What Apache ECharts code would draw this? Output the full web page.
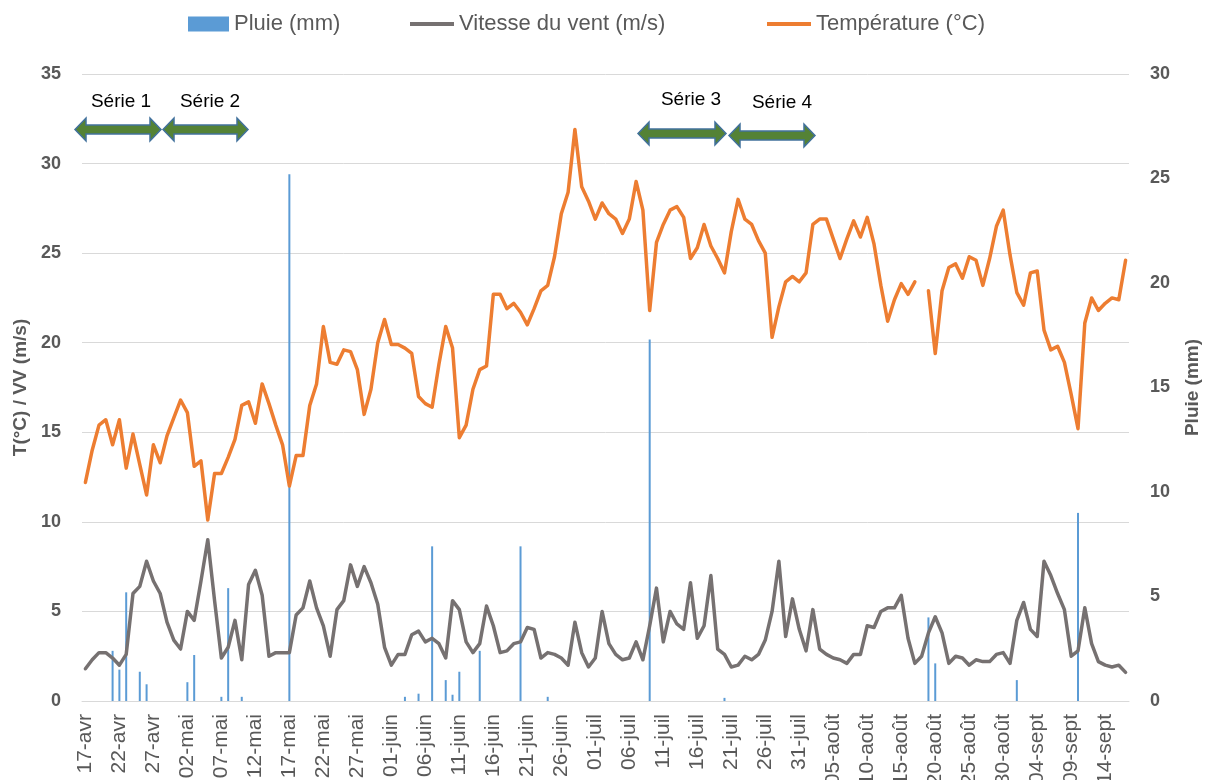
<!DOCTYPE html>
<html>
<head>
<meta charset="utf-8">
<title>Pluie, vent et température</title>
<script src="https://cdn.jsdelivr.net/npm/echarts@6/dist/echarts.min.js"></script>
<style>
  html, body { margin: 0; padding: 0; background: #ffffff; }
  #chart { width: 1206px; height: 780px; }
</style>
</head>
<body>
<div id="chart"></div>
<script>
// dates : du 17 avril au 17 septembre (un point par jour)
const monthNames = ['avr', 'mai', 'juin', 'juil', 'août', 'sept'];
const monthDays = [30, 31, 30, 31, 31, 30];
const startDay = 17;
const dayCount = 154;

// Température (°C)
const temperature = [
  12.2, 14.0, 15.4, 15.7, 14.3, 15.7, 13.0, 14.9, 13.2, 11.5,
  14.3, 13.3, 14.8, 15.8, 16.8, 16.1, 13.1, 13.4, 10.1, 12.7,
  12.7, 13.6, 14.6, 16.5, 16.7, 15.5, 17.7, 16.6, 15.4, 14.3,
  12.0, 13.7, 13.7, 16.5, 17.7, 20.9, 18.9, 18.8, 19.6, 19.5,
  18.5, 16.0, 17.4, 20.0, 21.3, 19.9, 19.9, 19.7, 19.4, 17.0,
  16.6, 16.4, 18.8, 20.9, 19.7, 14.7, 15.4, 17.4, 18.5, 18.7,
  22.7, 22.7, 21.9, 22.2, 21.7, 21.0, 21.9, 22.9, 23.2, 24.8,
  27.2, 28.4, 31.9, 28.7, 27.9, 26.9, 27.8, 27.2, 26.9, 26.1,
  26.9, 29.0, 27.4, 21.8, 25.6, 26.6, 27.4, 27.6, 27.0, 24.7,
  25.3, 26.6, 25.4, 24.7, 23.9, 26.2, 28.0, 26.9, 26.6, 25.7,
  25.0, 20.3, 22.0, 23.4, 23.7, 23.4, 23.9, 26.6, 26.9, 26.9,
  25.8, 24.7, 25.8, 26.8, 25.9, 27.0, 25.5, 23.2, 21.2, 22.4,
  23.3, 22.7, 23.4, null, 22.9, 19.4, 22.9, 24.2, 24.4, 23.6,
  24.8, 24.6, 23.2, 24.7, 26.5, 27.4, 24.9, 22.8, 22.1, 23.9,
  24.0, 20.7, 19.6, 19.8, 18.9, 17.1, 15.2, 21.1, 22.5, 21.8,
  22.2, 22.5, 22.4, 24.6
];

// Vitesse du vent (m/s)
const windSpeed = [
  1.8, 2.3, 2.7, 2.7, 2.4, 2.0, 2.6, 6.0, 6.4, 7.8,
  6.7, 6.0, 4.4, 3.4, 2.9, 5.0, 4.5, 6.7, 9.0, 5.6,
  2.4, 3.0, 4.5, 2.3, 6.5, 7.3, 5.9, 2.5, 2.7, 2.7,
  2.7, 4.8, 5.2, 6.7, 5.2, 4.2, 2.5, 5.1, 5.6, 7.6,
  6.4, 7.5, 6.6, 5.4, 3.0, 2.0, 2.6, 2.6, 3.7, 3.9,
  3.3, 3.5, 3.2, 2.4, 5.6, 5.1, 3.3, 2.7, 3.2, 5.3,
  4.2, 2.7, 2.8, 3.2, 3.3, 4.1, 4.0, 2.4, 2.7, 2.6,
  2.4, 2.0, 4.4, 2.7, 1.9, 2.4, 5.0, 3.2, 2.6, 2.3,
  2.4, 3.3, 2.3, 4.2, 6.3, 3.3, 5.0, 4.3, 4.0, 6.6,
  3.5, 4.2, 7.0, 2.9, 2.6, 1.9, 2.0, 2.5, 2.3, 2.6,
  3.4, 5.0, 7.8, 3.6, 5.7, 4.0, 2.8, 5.1, 2.9, 2.6,
  2.4, 2.3, 2.1, 2.6, 2.6, 4.2, 4.1, 5.0, 5.2, 5.2,
  5.9, 3.5, 2.1, 2.5, 3.8, 4.7, 3.8, 2.1, 2.5, 2.4,
  2.0, 2.3, 2.2, 2.2, 2.6, 2.7, 2.1, 4.5, 5.5, 4.0,
  3.6, 7.8, 7.0, 6.0, 5.1, 2.5, 2.8, 5.2, 3.2, 2.2,
  2.0, 1.9, 2.0, 1.6
];

// Pluie (mm)
const rain = [
  0, 0, 0, 0, 2.4, 1.5, 5.2, 0, 1.4, 0.8,
  0, 0, 0, 0, 0, 0.9, 2.2, 0, 0, 0,
  0.2, 5.4, 0, 0.2, 0, 0, 0, 0, 0, 0,
  25.2, 0, 0, 0, 0, 0, 0, 0, 0, 0,
  0, 0, 0, 0, 0, 0, 0, 0.2, 0, 0.35,
  0, 7.4, 0, 1.0, 0.3, 1.4, 0, 0, 2.4, 0,
  0, 0, 0, 0, 7.4, 0, 0, 0, 0.2, 0,
  0, 0, 0, 0, 0, 0, 0, 0, 0, 0,
  0, 0, 0, 17.3, 0, 0, 0, 0, 0, 0,
  0, 0, 0, 0, 0.15, 0, 0, 0, 0, 0,
  0, 0, 0, 0, 0, 0, 0, 0, 0, 0,
  0, 0, 0, 0, 0, 0, 0, 0, 0, 0,
  0, 0, 0, 0, 4.0, 1.8, 0, 0, 0, 0,
  0, 0, 0, 0, 0, 0, 0, 1.0, 0, 0,
  0, 0, 0, 0, 0, 0, 9.0, 0, 0, 0,
  0, 0, 0, 0
];

// périodes de mesure (flèches)
const seriesLabels = ['Série 1', 'Série 2', 'Série 3', 'Série 4'];

// construction des libellés de dates
const dates = [];
let m = 0, d = startDay;
for (let i = 0; i < dayCount; i++) {
  dates.push((d < 10 ? '0' + d : '' + d) + '-' + monthNames[m]);
  d++;
  if (d > monthDays[m]) { d = 1; m++; }
}

const FONT = '"Liberation Sans", Arial, sans-serif';
const GREY_TXT = '#595959';
const LINE_ICON = 'path://M0,0H44V4H0Z';

// flèche double (annotation)
const makeArrow = (x0, x1, yc) => {
  const h = 11, H = 11.5, s = 4.5;
  return {
    type: 'polygon',
    shape: {
      points: [
        [x0, yc], [x0 + h, yc - H], [x0 + h, yc - s], [x1 - h, yc - s],
        [x1 - h, yc - H], [x1, yc], [x1 - h, yc + H], [x1 - h, yc + s],
        [x0 + h, yc + s], [x0 + h, yc + H]
      ]
    },
    style: { fill: '#548235', stroke: '#41719C', lineWidth: 1.5 },
    z: 100
  };
};

const seriesText = (text, x, y) => ({
  type: 'text',
  x: x, y: y,
  style: {
    text: text, fill: '#000000', font: '19px ' + FONT,
    textAlign: 'center', textVerticalAlign: 'middle'
  },
  z: 100
});

const legendText = { fontSize: 22, color: GREY_TXT, fontFamily: FONT };

const chart = echarts.init(document.getElementById('chart'));

chart.setOption({
  backgroundColor: '#ffffff',
  animation: false,
  textStyle: { fontFamily: FONT },
  grid: { left: 82, right: 77, top: 74, bottom: 79, containLabel: false, outerBoundsMode: 'none' },
  legend: [
    {
      data: [{ name: 'Pluie (mm)', icon: 'rect' }],
      left: 183, top: 8, itemWidth: 41, itemHeight: 15,
      textStyle: legendText
    },
    {
      data: [{ name: 'Vitesse du vent (m/s)', icon: LINE_ICON }],
      left: 405, top: 8, itemWidth: 44, itemHeight: 15,
      textStyle: legendText
    },
    {
      data: [{ name: 'Température (°C)', icon: LINE_ICON }],
      left: 762, top: 8, itemWidth: 44, itemHeight: 15,
      textStyle: legendText
    }
  ],
  xAxis: {
    type: 'category',
    data: dates,
    boundaryGap: true,
    axisLine: { lineStyle: { color: '#D9D9D9', width: 1 } },
    axisTick: { show: false },
    axisLabel: {
      interval: 4,
      rotate: 90,
      margin: 13,
      fontSize: 21,
      color: GREY_TXT,
      fontFamily: FONT
    }
  },
  yAxis: [
    {
      type: 'value',
      min: 0, max: 35, interval: 5,
      name: 'T(°C) / VV (m/s)',
      nameLocation: 'middle',
      nameRotate: 90,
      nameGap: 52,
      nameTextStyle: { fontSize: 19, fontWeight: 'bold', color: GREY_TXT, fontFamily: FONT },
      axisLine: { show: false },
      axisTick: { show: false },
      axisLabel: { fontSize: 18, fontWeight: 'bold', color: GREY_TXT, margin: 21, fontFamily: FONT },
      splitLine: { lineStyle: { color: '#D9D9D9', width: 1 } }
    },
    {
      type: 'value',
      min: 0, max: 30, interval: 5,
      position: 'right',
      name: 'Pluie (mm)',
      nameLocation: 'middle',
      nameRotate: 90,
      nameGap: 54,
      nameTextStyle: { fontSize: 19, fontWeight: 'bold', color: GREY_TXT, fontFamily: FONT },
      axisLine: { show: false },
      axisTick: { show: false },
      axisLabel: { fontSize: 18, fontWeight: 'bold', color: GREY_TXT, margin: 21, fontFamily: FONT },
      splitLine: { show: false }
    }
  ],
  series: [
    {
      name: 'Pluie (mm)',
      type: 'bar',
      yAxisIndex: 1,
      data: rain,
      barWidth: 2,
      itemStyle: { color: '#5B9BD5' },
      z: 1
    },
    {
      name: 'Vitesse du vent (m/s)',
      type: 'line',
      data: windSpeed,
      symbol: 'none',
      lineStyle: { color: '#767171', width: 3.5, join: 'round', cap: 'round' },
      itemStyle: { color: '#767171' },
      z: 2
    },
    {
      name: 'Température (°C)',
      type: 'line',
      data: temperature,
      symbol: 'none',
      connectNulls: false,
      lineStyle: { color: '#ED7D31', width: 3.5, join: 'round', cap: 'round' },
      itemStyle: { color: '#ED7D31' },
      z: 3
    }
  ],
  graphic: [
    seriesText(seriesLabels[0], 121, 102),
    seriesText(seriesLabels[1], 210, 102),
    seriesText(seriesLabels[2], 691, 100),
    seriesText(seriesLabels[3], 782, 103),
    makeArrow(75, 161, 129.5),
    makeArrow(163, 248, 129.5),
    makeArrow(638, 726, 133.5),
    makeArrow(729, 815, 135.5)
  ]
});

window.addEventListener('resize', () => chart.resize());
</script>
</body>
</html>
